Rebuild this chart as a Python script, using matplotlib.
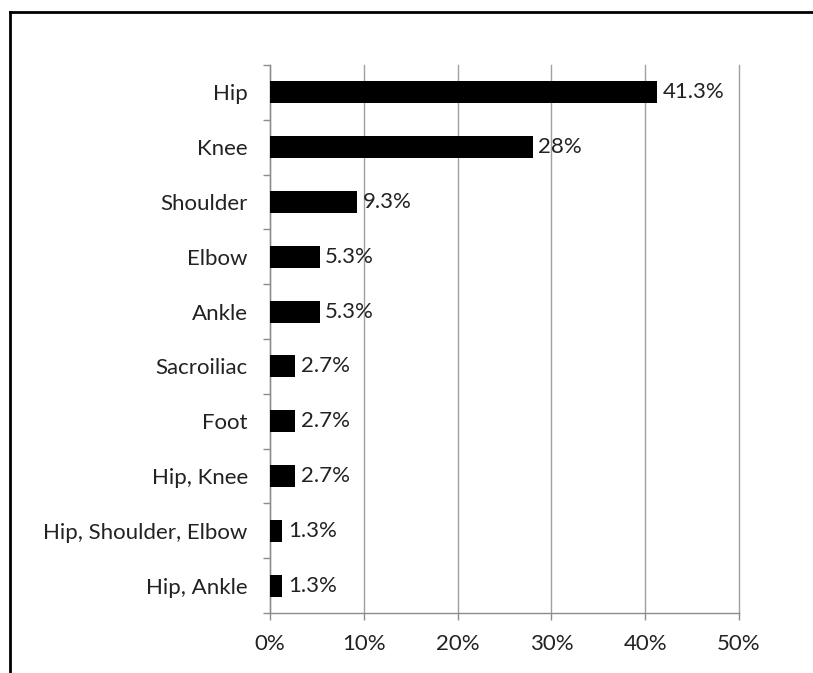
import matplotlib
matplotlib.use("Agg")
import matplotlib.pyplot as plt
from matplotlib.lines import Line2D
from matplotlib.ticker import FixedLocator

categories = ["Hip", "Knee", "Shoulder", "Elbow", "Ankle", "Sacroiliac",
              "Foot", "Hip, Knee", "Hip, Shoulder, Elbow", "Hip, Ankle"]
values = [41.3, 28, 9.3, 5.3, 5.3, 2.7, 2.7, 2.7, 1.3, 1.3]
value_labels = ["41.3%", "28%", "9.3%", "5.3%", "5.3%", "2.7%",
                "2.7%", "2.7%", "1.3%", "1.3%"]
x_ticks = [0, 10, 20, 30, 40, 50]

plt.rcParams["font.family"] = ["Lato", "DejaVu Sans"]
text_color = "#222222"
axis_gray = "#8c8c8c"

fig = plt.figure(figsize=(8.13, 6.73), dpi=100)
ax = fig.add_axes([270 / 813, 60 / 673, 469 / 813, 548 / 673])

n = len(categories)
ypos = list(range(n))
ax.barh(ypos, values, height=0.4, color="black", zorder=3)
ax.set_ylim(n - 0.5, -0.5)
ax.set_xlim(0, 50)

for y, v, lab in zip(ypos, values, value_labels):
    ax.annotate(lab, (v, y), xytext=(4, 0), textcoords="offset points",
                va="center", ha="left", fontsize=16, color=text_color, zorder=4)

ax.set_yticks(ypos)
ax.set_yticklabels(categories)
ax.yaxis.set_minor_locator(FixedLocator([i - 0.5 for i in range(n + 1)]))
ax.tick_params(axis="y", which="major", length=0, pad=16, labelsize=16,
               labelcolor=text_color)
ax.tick_params(axis="y", which="minor", length=5, color=axis_gray, width=1)

ax.set_xticks(x_ticks)
ax.set_xticklabels([f"{t}%" for t in x_ticks])
ax.tick_params(axis="x", which="major", length=5, color=axis_gray, width=1,
               pad=10, labelsize=16, labelcolor=text_color)

ax.grid(axis="x", color="#a0a0a0", linewidth=1, zorder=0)
for gl in ax.get_xgridlines():
    gl.set_clip_on(False)
for side in ["top", "right"]:
    ax.spines[side].set_visible(False)
for side in ["left", "bottom"]:
    ax.spines[side].set_color(axis_gray)
    ax.spines[side].set_linewidth(1)

# outer frame (top and left edges visible)
fig.add_artist(Line2D([10 / 813, 1.0], [1 - 12 / 673, 1 - 12 / 673],
                      transform=fig.transFigure, color="black", linewidth=2))
fig.add_artist(Line2D([10 / 813, 10 / 813], [0, 1 - 12 / 673],
                      transform=fig.transFigure, color="black", linewidth=2))

fig.savefig("out.png", dpi=100)
